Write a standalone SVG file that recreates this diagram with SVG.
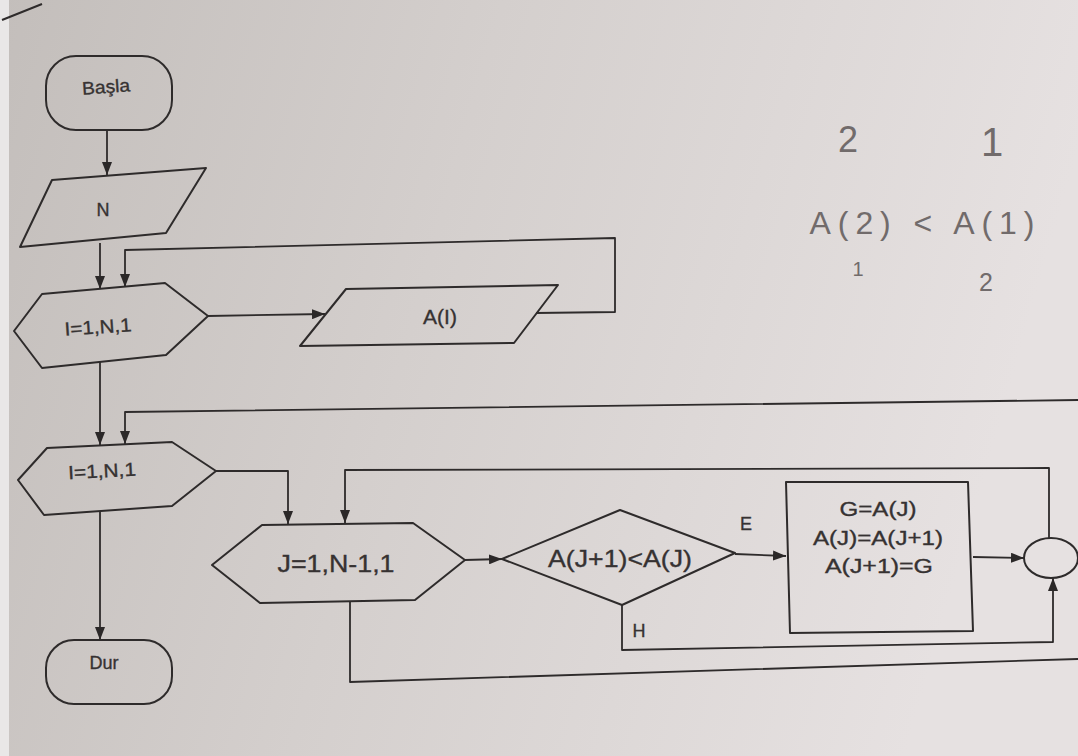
<svg xmlns="http://www.w3.org/2000/svg" width="1078" height="756" viewBox="0 0 1078 756">
  <defs>
    <linearGradient id="paper" x1="0" y1="0" x2="1" y2="0.2">
      <stop offset="0" stop-color="#c3bebb"/>
      <stop offset="0.45" stop-color="#d4cfcd"/>
      <stop offset="1" stop-color="#e6e1e1"/>
    </linearGradient>
    <marker id="arrow" markerUnits="userSpaceOnUse" markerWidth="13" markerHeight="10" refX="13" refY="5" orient="auto">
      <path d="M0,0 L13,5 L0,10 z" fill="#2b2828"/>
    </marker>
    <style>
      .shape { fill: none; stroke: #2e2b2b; stroke-width: 2; stroke-linejoin: round; }
      .wire { fill: none; stroke: #2e2b2b; stroke-width: 1.8; stroke-linejoin: round; }
      .arrowed { marker-end: url(#arrow); }
      .label { font-family: "Liberation Sans", Arial, sans-serif; fill: #363232; stroke: #363232; stroke-width: 0.35; text-anchor: middle; dominant-baseline: central; }
      .hand { font-family: "Liberation Sans", Arial, sans-serif; fill: #716b6b; text-anchor: middle; }
    </style>
  </defs>

  <!-- page background -->
  <rect x="0" y="0" width="1078" height="756" fill="url(#paper)"/>
  <rect x="0" y="0" width="9" height="756" fill="#e9e7e7"/>
  <path d="M2,20 L42,4" fill="none" stroke="#2e2b2b" stroke-width="2"/>

  <!-- connectors -->
  <g id="connectors">
    <path class="wire arrowed" d="M107,130 L107,175"/>
    <path class="wire arrowed" d="M100,243 L100,289"/>
    <path class="wire arrowed" d="M208,316 L325,314"/>
    <path class="wire arrowed" d="M536,313 L615,312 L615,238 L125,250 L125,287"/>
    <path class="wire arrowed" d="M100,362 L100,445"/>
    <path class="wire arrowed" d="M1078,400 L125,412 L125,444"/>
    <path class="wire arrowed" d="M216,471 L288,471 L288,524"/>
    <path class="wire arrowed" d="M100,511 L100,640"/>
    <path class="wire arrowed" d="M465,560 L502,559"/>
    <path class="wire arrowed" d="M735,554 L786,556"/>
    <path class="wire arrowed" d="M973,557 L1024,558"/>
    <path class="wire arrowed" d="M622,605 L622,650 L1053,642 L1053,578"/>
    <path class="wire arrowed" d="M1049,538 L1049,468 L345,470 L345,523"/>
    <path class="wire" d="M350,602 L350,682 L1078,659"/>
    <text class="label" x="746" y="524" font-size="18">E</text>
    <text class="label" x="639" y="631" font-size="18">H</text>
  </g>

  <!-- start -->
  <g id="start">
    <rect class="shape" x="46" y="56" width="126" height="74" rx="30"/>
    <text class="label" x="106" y="87" font-size="18" textLength="48" lengthAdjust="spacingAndGlyphs" transform="rotate(-4 106 87)">Başla</text>
  </g>

  <!-- read N -->
  <g id="read-n">
    <polygon class="shape" points="52,180 206,168 166,233 20,247"/>
    <text class="label" x="103" y="210" font-size="18">N</text>
  </g>

  <!-- first loop: I=1,N,1 -->
  <g id="loop-read">
    <polygon class="shape" points="14,331 42,294 165,283 208,316 166,355 42,368"/>
    <text class="label" x="98" y="327" font-size="19" textLength="67" lengthAdjust="spacingAndGlyphs" transform="rotate(-4 98 327)">I=1,N,1</text>
  </g>

  <!-- read A(I) -->
  <g id="read-a">
    <polygon class="shape" points="346,289 558,285 514,343 300,346"/>
    <text class="label" x="440" y="316" font-size="21">A(I)</text>
  </g>

  <!-- outer sort loop: I=1,N,1 -->
  <g id="loop-outer">
    <polygon class="shape" points="18,480 47,448 172,442 216,471 172,506 44,515"/>
    <text class="label" x="102" y="471" font-size="19" textLength="68" lengthAdjust="spacingAndGlyphs" transform="rotate(-3 102 471)">I=1,N,1</text>
  </g>

  <!-- inner loop: J=1,N-1,1 -->
  <g id="loop-inner">
    <polygon class="shape" points="212,565 262,525 413,523 465,560 415,600 260,603"/>
    <text class="label" x="336" y="564" font-size="23" textLength="117" lengthAdjust="spacingAndGlyphs">J=1,N-1,1</text>
  </g>

  <!-- compare -->
  <g id="compare">
    <polygon class="shape" points="502,559 620,510 735,553 622,605"/>
    <text class="label" x="620" y="558" font-size="24" textLength="144" lengthAdjust="spacingAndGlyphs">A(J+1)&lt;A(J)</text>
  </g>

  <!-- swap -->
  <g id="swap">
    <polygon class="shape" points="786,482 968,482 973,631 790,633"/>
    <text class="label" x="878" y="508" font-size="21" textLength="77" lengthAdjust="spacingAndGlyphs">G=A(J)</text>
    <text class="label" x="878" y="537" font-size="21" textLength="130" lengthAdjust="spacingAndGlyphs">A(J)=A(J+1)</text>
    <text class="label" x="879" y="565" font-size="21" textLength="108" lengthAdjust="spacingAndGlyphs">A(J+1)=G</text>
  </g>

  <!-- junction -->
  <g id="junction">
    <ellipse class="shape" cx="1051" cy="558" rx="27" ry="20"/>
  </g>

  <!-- stop -->
  <g id="stop">
    <rect class="shape" x="46" y="640" width="126" height="64" rx="28"/>
    <text class="label" x="104" y="663" font-size="18">Dur</text>
  </g>

  <!-- pencil notes -->
  <g id="notes">
    <text class="hand" x="848" y="152" font-size="36">2</text>
    <text class="hand" x="992" y="156" font-size="40">1</text>
    <text class="hand" x="922" y="234" font-size="32" textLength="225">A(2) &lt; A(1)</text>
    <text class="hand" x="858" y="276" font-size="20">1</text>
    <text class="hand" x="986" y="291" font-size="25">2</text>
  </g>
</svg>
